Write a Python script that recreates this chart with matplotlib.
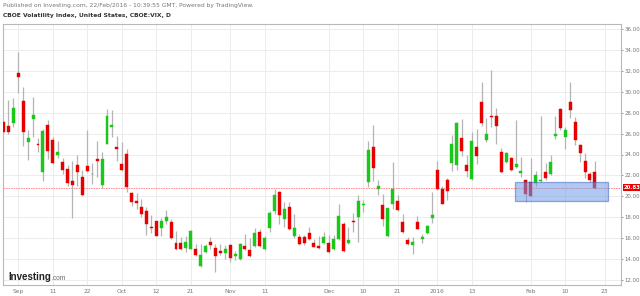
import numpy as np
import pandas as pd
import matplotlib.pyplot as plt
from matplotlib.patches import Rectangle
from matplotlib.transforms import blended_transform_factory

# daily VIX candles, 27 Aug 2015 .. 19 Feb 2016
opens = [27.1, 26.7, 27.0, 31.8, 29.1, 25.2, 27.4, 25.0, 22.3, 26.8, 25.4, 24.0, 23.3, 22.6,
         21.5, 23.0, 21.9, 22.9, 22.1, 23.6, 21.1, 25.0, 26.6, 24.7, 23.1, 24.0, 20.3, 19.6,
         19.0, 18.6, 17.1, 17.7, 17.0, 17.7, 17.6, 15.6, 15.6, 15.1, 15.0, 15.0, 13.4, 14.7,
         15.7, 15.1, 14.8, 14.6, 15.4, 14.3, 14.0, 15.3, 14.9, 15.3, 16.6, 15.0, 17.0, 18.6,
         20.4, 17.8, 19.0, 16.2, 16.1, 16.1, 16.5, 15.6, 15.3, 15.6, 15.6, 15.0, 15.9, 17.4,
         15.6, 17.7, 18.0, 19.2, 21.4, 24.7, 20.7, 19.2, 16.2, 19.3, 19.6, 17.6, 15.8, 15.4,
         17.6, 15.9, 16.5, 17.9, 22.5, 20.7, 21.6, 23.2, 23.0, 25.6, 23.0, 21.7, 24.7, 29.0,
         25.4, 27.7, 27.7, 24.2, 23.3, 23.7, 22.8, 22.2, 21.6, 21.4, 21.3, 21.5, 22.3, 22.1,
         25.8, 28.3, 25.7, 29.0, 27.1, 24.9, 23.4, 22.1, 22.3]
highs = [27.3, 29.2, 29.4, 33.8, 30.4, 26.3, 29.5, 25.6, 26.4, 27.3, 25.7, 25.3, 23.7, 23.0,
         23.4, 24.0, 22.5, 26.3, 23.2, 25.3, 24.2, 28.3, 28.2, 25.8, 25.2, 24.5, 20.4, 20.3,
         19.8, 19.0, 18.2, 17.7, 17.9, 18.7, 17.8, 16.7, 16.1, 16.2, 16.8, 15.5, 15.5, 15.5,
         16.1, 15.5, 15.5, 15.4, 15.5, 14.8, 15.6, 16.4, 16.0, 17.0, 16.9, 16.2, 18.6, 20.7,
         20.5, 19.5, 19.5, 18.3, 16.4, 16.3, 17.1, 15.9, 16.2, 16.6, 16.3, 16.3, 19.3, 17.6,
         17.1, 18.4, 20.1, 19.7, 25.3, 26.8, 21.6, 20.2, 18.9, 23.3, 20.1, 18.3, 16.1, 16.1,
         18.1, 16.4, 17.3, 20.4, 23.4, 21.0, 21.8, 25.9, 27.1, 27.4, 24.0, 26.1, 26.4, 30.9,
         27.5, 32.1, 28.4, 24.6, 24.2, 23.8, 27.3, 23.8, 21.7, 23.7, 22.4, 27.7, 23.2, 24.0,
         27.7, 28.4, 26.6, 30.9, 27.6, 25.0, 24.1, 22.3, 23.4]
lows = [26.0, 26.0, 26.6, 29.9, 24.8, 23.5, 25.7, 24.2, 21.5, 23.6, 23.1, 23.7, 22.1, 21.0,
        17.9, 21.0, 20.0, 22.3, 21.2, 21.9, 20.8, 25.0, 25.7, 23.4, 22.4, 20.4, 19.1, 18.8,
        18.0, 16.3, 16.5, 16.2, 16.2, 17.4, 15.9, 14.9, 14.9, 14.7, 15.0, 14.3, 13.3, 14.6,
        15.0, 12.8, 14.4, 14.0, 13.7, 13.9, 13.9, 14.9, 14.2, 15.2, 15.2, 14.9, 16.6, 18.3,
        17.4, 17.1, 16.8, 16.0, 15.4, 15.4, 15.8, 15.2, 15.0, 15.5, 14.6, 14.9, 15.8, 14.7,
        15.5, 16.6, 15.7, 18.5, 20.9, 21.5, 20.1, 17.2, 16.1, 18.8, 18.6, 16.5, 15.4, 14.5,
        16.9, 15.6, 16.4, 17.5, 20.6, 19.3, 19.7, 22.4, 22.5, 23.9, 21.9, 21.6, 23.1, 26.7,
        25.2, 26.6, 25.0, 22.2, 23.2, 22.4, 22.7, 21.9, 19.5, 20.0, 21.0, 21.4, 21.6, 22.0,
        25.5, 26.3, 24.5, 27.5, 24.9, 23.3, 21.8, 21.4, 20.7]
closes = [26.1, 26.1, 28.4, 31.4, 26.1, 25.6, 27.8, 24.9, 26.2, 24.3, 23.2, 24.2, 22.5, 21.3,
          21.1, 22.3, 20.1, 22.4, 22.15, 23.4, 23.6, 27.7, 26.8, 24.5, 22.5, 20.9, 19.5, 19.4,
          18.3, 17.4, 17.0, 16.2, 17.7, 18.0, 16.0, 15.0, 15.0, 15.7, 16.7, 14.4, 14.4, 15.3,
          15.4, 14.3, 14.6, 15.0, 14.1, 14.5, 15.5, 15.0, 14.3, 16.5, 15.3, 16.0, 18.4, 20.1,
          18.2, 18.8, 16.9, 17.0, 15.5, 15.6, 15.9, 15.2, 15.1, 16.1, 14.7, 15.9, 18.1, 14.8,
          15.8, 17.6, 19.6, 19.3, 24.4, 22.7, 21.0, 17.8, 18.9, 20.7, 18.7, 16.6, 15.5, 15.7,
          16.9, 16.1, 17.2, 18.2, 20.7, 19.3, 20.5, 25.0, 27.0, 24.3, 22.4, 25.3, 23.9, 27.0,
          26.0, 27.6, 26.7, 22.3, 24.1, 22.5, 23.1, 22.4, 20.2, 20.0, 22.0, 21.6, 21.8, 23.3,
          26.0, 26.5, 26.3, 28.2, 25.4, 24.1, 22.3, 21.6, 20.83]

holidays = ['2015-09-07', '2015-11-26', '2015-12-25', '2016-01-01', '2016-01-18', '2016-02-15']
days = pd.bdate_range('2015-08-27', '2016-02-23')
days = days[~days.isin(pd.to_datetime(holidays))]

tick_dates = ['2015-09-01', '2015-09-11', '2015-09-22', '2015-10-01', '2015-10-12', '2015-10-21',
              '2015-11-02', '2015-11-11', '2015-12-01', '2015-12-10', '2015-12-21', '2016-01-04',
              '2016-01-13', '2016-02-01', '2016-02-10', '2016-02-23']
tick_labels = ['Sep', '11', '22', 'Oct', '12', '21', 'Nov', '11', 'Dec', '10', '21', '2016',
               '13', 'Feb', '10', '23']

last_price = 20.83
# highlighted zone (bar positions / price)
box_left, box_right = 103.7, 122.7
box_low, box_high = 19.6, 21.35

o = np.array(opens)
h = np.array(highs)
l = np.array(lows)
c = np.array(closes)
x = np.arange(len(c))
up = c >= o

green = '#19c819'
red = '#e80000'
cols = np.where(up, green, red)

fig = plt.figure(figsize=(6.4, 2.96), dpi=100)
ax = fig.add_axes([3 / 640, 1 - 285 / 296, 618 / 640, 261 / 296])

ax.vlines(x, l, h, color='#b4b4b4', linewidth=0.9, zorder=2)
body = np.maximum(np.abs(c - o), 0.08)
ax.bar(x, body, bottom=np.minimum(o, c), width=0.6, color=cols,
       edgecolor=cols, linewidth=0.3, zorder=3)

ax.add_patch(Rectangle((box_left, box_low), box_right - box_left, box_high - box_low,
                       facecolor='#6f9be8', alpha=0.55, edgecolor='#3f66c0',
                       linewidth=0.9, zorder=4))

ax.axhline(last_price, color='#ff8080', linewidth=0.6, linestyle=(0, (2, 1)), zorder=1)
trans = blended_transform_factory(ax.transAxes, ax.transData)
ax.text(1.004, last_price, f'{last_price:.2f}', transform=trans, fontsize=3.9,
        color='white', fontweight='bold', va='center', ha='left',
        bbox=dict(boxstyle='square,pad=0.15', facecolor='#e80000', edgecolor='none'))

tick_pos = [days.get_loc(pd.Timestamp(d)) for d in tick_dates]
ax.set_xticks(tick_pos)
ax.set_xticklabels(tick_labels)
ax.set_yticks(np.arange(12, 37, 2))
ax.set_yticklabels([f'{v:.2f}' for v in np.arange(12, 37, 2)])
ax.yaxis.tick_right()
ax.tick_params(axis='y', labelsize=3.9, colors='#777777', length=1.5, width=0.5, pad=1)
ax.tick_params(axis='x', labelsize=4.2, colors='#777777', length=0, pad=3)
ax.grid(True, color='#ececec', linewidth=0.7, zorder=0)
ax.set_axisbelow(True)

ax.set_xlim(-0.1, 125.3)
ax.set_ylim(11.55, 36.45)
for s in ax.spines.values():
    s.set_color('#b8b8b8')
    s.set_linewidth(0.8)

fig.text(3 / 640, 1 - 6 / 296,
         'Published on Investing.com, 22/Feb/2016 - 10:39:55 GMT, Powered by TradingView.',
         fontsize=4.3, color='#777777', va='center')
fig.text(3 / 640, 1 - 16 / 296, 'CBOE Volatility Index, United States, CBOE:VIX, D',
         fontsize=4.3, color='#333333', fontweight='bold', va='center')

logo = fig.text(8 / 640, 1 - 280 / 296, 'Investing', fontsize=7, fontweight='bold',
                family='Liberation Sans', color='#222222', va='baseline')
fig.get_figure().canvas.draw()
ax.annotate('.com', xy=(1, 0), xycoords=logo, xytext=(0.5, 0), textcoords='offset points',
            fontsize=4.8, family='Liberation Sans', color='#666666', va='bottom', ha='left')

fig.savefig('out.png', dpi=100)
